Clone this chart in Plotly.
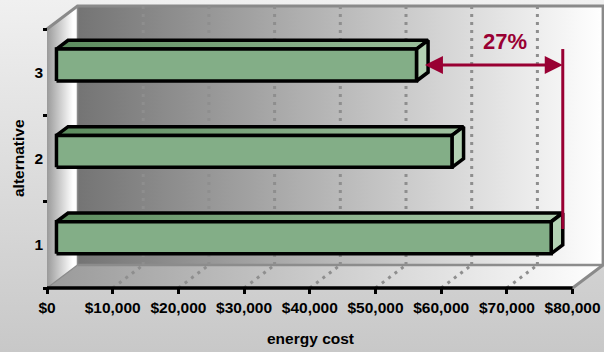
import plotly.graph_objects as go

# ---------------- data ----------------
alternatives = [1, 2, 3]
alt_labels = ["1", "2", "3"]
energy_cost = [75300, 60200, 54800]
x_tick_vals = [0, 10000, 20000, 30000, 40000, 50000, 60000, 70000, 80000]
x_tick_labels = ["$0", "$10,000", "$20,000", "$30,000", "$40,000",
                 "$50,000", "$60,000", "$70,000", "$80,000"]
grid_vals = [10000, 20000, 30000, 40000, 50000, 60000, 70000]
saving_label = "27%"
x_title = "energy cost"
y_title = "alternative"

# ---------------- geometry / style ----------------
W, H = 604, 352
X0_PX, X80_PX = 47.0, 572.6          # front plane: $0 and $80,000
Y_BOT_PX, Y_TOP_PX = 288.0, 29.0     # front plane: 0.5 and 3.5
XMAX = 80000
Y_LO, Y_HI = 0.5, 3.5
px_x = (X80_PX - X0_PX) / XMAX
px_y = (Y_BOT_PX - Y_TOP_PX) / 3.0
x_range = [-X0_PX / px_x, (W - X0_PX) / px_x]
y_range = [Y_LO - (H - Y_BOT_PX) / px_y, Y_LO + Y_BOT_PX / px_y]
DX = 30.5 / px_x      # depth offset in value units
DY = 23.0 / px_y      # depth offset in category units
F1, F2 = 0.31, 0.69   # bar depth fractions
BAR_W = 0.37
RED = "#990033"
FONT = "Liberation Sans, Arial, sans-serif"

traces = []


def poly(xs, ys, fillcolor=None, gradient=None, line_color=None, line_width=0):
    t = go.Scatter(
        x=list(xs) + [xs[0]], y=list(ys) + [ys[0]], mode="lines",
        fill="toself",
        line=dict(color=line_color or "rgba(0,0,0,0)", width=line_width),
        hoverinfo="skip", showlegend=False,
    )
    if gradient is not None:
        t.fillgradient = gradient
    else:
        t.fillcolor = fillcolor
    return t


def line(xs, ys, color, width, dash=None):
    return go.Scatter(x=xs, y=ys, mode="lines",
                      line=dict(color=color, width=width, dash=dash),
                      hoverinfo="skip", showlegend=False)


# page background
traces.append(poly([x_range[0], x_range[1], x_range[1], x_range[0]],
                   [y_range[0], y_range[0], y_range[1], y_range[1]],
                   gradient=dict(type="vertical",
                                 colorscale=[[0, "#c8c8c8"], [1, "#f0f0f0"]])))
# back wall
traces.append(poly([DX, XMAX + DX, XMAX + DX, DX],
                   [Y_LO + DY, Y_LO + DY, Y_HI + DY, Y_HI + DY],
                   gradient=dict(type="horizontal",
                                 colorscale=[[0, "#747474"], [1, "#ffffff"]])))
# floor
traces.append(poly([0, XMAX, XMAX + DX, DX],
                   [Y_LO, Y_LO, Y_LO + DY, Y_LO + DY],
                   gradient=dict(type="horizontal",
                                 colorscale=[[0, "#9a9a9a"], [1, "#ffffff"]])))
# left wall
traces.append(poly([0, DX, DX, 0],
                   [Y_LO, Y_LO + DY, Y_HI + DY, Y_HI],
                   gradient=dict(type="horizontal",
                                 colorscale=[[0, "#9a9a9a"], [0.85, "#ffffff"], [1, "#ffffff"]])))
# wall edges
traces.append(line([DX, DX], [Y_LO + DY, Y_HI + DY], "#8a8a8a", 1.5))
traces.append(line([0, DX], [Y_LO, Y_LO + DY], "#8a8a8a", 1.2))
traces.append(line([DX, XMAX + DX], [Y_LO + DY, Y_LO + DY], "#8c8c8c", 2.5))
traces.append(line([0, DX, XMAX + DX, XMAX + DX, XMAX],
                   [Y_HI, Y_HI + DY, Y_HI + DY, Y_LO + DY, Y_LO], "#8a8a8a", 3))

# dotted gridlines (back wall + floor)
for g in grid_vals:
    traces.append(line([g + DX, g + DX], [Y_LO + DY, Y_HI + DY], "#8e8e8e", 3, "3px,5px"))
    traces.append(line([g, g + DX], [Y_LO, Y_LO + DY], "#8e8e8e", 3, "3px,5px"))

# front floor edge (axis line)
traces.append(line([0, XMAX], [Y_LO, Y_LO], "black", 3.5))

# 3D bars
base = F1 * DX
ddx = (F2 - F1) * DX
ddy = (F2 - F1) * DY
for k, v in zip(alternatives, energy_cost):
    yc = k + F1 * DY
    top, bot = yc + BAR_W / 2, yc - BAR_W / 2
    # top face
    traces.append(poly([base, base + v, base + v + ddx, base + ddx],
                       [top, top, top + ddy, top + ddy],
                       gradient=dict(type="horizontal", start=0, stop=XMAX + DX,
                                     colorscale=[[0, "#5a8a5c"], [1, "#b8d6b8"]]),
                       line_color="black", line_width=3.5))
    # side face
    traces.append(poly([base + v, base + v + ddx, base + v + ddx, base + v],
                       [bot, bot + ddy, top + ddy, top],
                       fillcolor="#b3d2b3", line_color="black", line_width=3.5))
    # front face
    traces.append(poly([base, base + v, base + v, base],
                       [bot, bot, top, top],
                       fillcolor="#83ae87", line_color="black", line_width=3.5))

# saving marker: vertical line at end of alternative 1
v_x = base + energy_cost[0] + ddx
arrow_y = 3 + F1 * DY
traces.append(line([v_x, v_x], [arrow_y + 16 / px_y, 1.183], RED, 3))
arrow_left = base + energy_cost[2] + 0.6 * ddx

fig = go.Figure(traces)

tick_font = dict(family=FONT, size=15.5, color="black", weight="bold")
fig.update_layout(
    width=W, height=H, autosize=False,
    margin=dict(l=0, r=0, t=0, b=0),
    paper_bgcolor="#dcdcdc", plot_bgcolor="#dcdcdc",
    showlegend=False,
    xaxis=dict(range=x_range, domain=[0, 1], anchor="free",
               position=(H - Y_BOT_PX) / H,
               tickmode="array", tickvals=x_tick_vals, ticktext=x_tick_labels,
               ticks="outside", ticklen=5, tickwidth=3, tickcolor="black",
               showgrid=False, zeroline=False, showline=False,
               tickfont=tick_font, fixedrange=True),
    yaxis=dict(range=y_range, domain=[0, 1], anchor="free",
               position=X0_PX / W,
               tickmode="array", tickvals=alternatives, ticktext=alt_labels,
               ticks="", showgrid=False, zeroline=False, showline=False,
               minor=dict(tickmode="array", tickvals=[0.5, 1.5, 2.5, 3.5],
                          ticks="outside", ticklen=4, tickwidth=3,
                          tickcolor="black", showgrid=False),
               ticklabelstandoff=4,
               tickfont=tick_font, fixedrange=True),
    annotations=[
        dict(x=v_x, y=arrow_y, ax=arrow_left, ay=arrow_y,
             xref="x", yref="y", axref="x", ayref="y",
             text="", showarrow=True, arrowside="end+start",
             arrowhead=2, startarrowhead=2, arrowsize=1.2, startarrowsize=1.2,
             arrowwidth=3, arrowcolor=RED, standoff=0, startstandoff=0),
        dict(x=(458) / px_x, y=arrow_y + 24 / px_y,
             xref="x", yref="y", text=saving_label, showarrow=False,
             xanchor="center", yanchor="middle",
             font=dict(family=FONT, size=22, color=RED, weight="bold")),
        dict(x=310 / W, y=(H - 338) / H, xref="paper", yref="paper",
             text=x_title, showarrow=False, xanchor="center", yanchor="middle",
             font=dict(family=FONT, size=15.5, color="black", weight="bold")),
        dict(x=18 / W, y=(H - 158) / H, xref="paper", yref="paper",
             text=y_title, showarrow=False, textangle=-90,
             xanchor="center", yanchor="middle",
             font=dict(family=FONT, size=15.5, color="black", weight="bold")),
    ],
)

fig.write_html("out.html")
